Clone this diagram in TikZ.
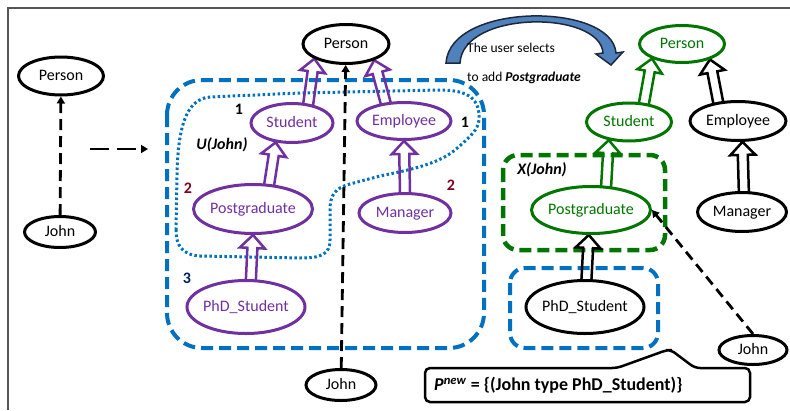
\documentclass[tikz,border=0pt]{standalone}
\usepackage{fontspec}
\setmainfont{Carlito}
\usetikzlibrary{shapes.geometric,calc,arrows.meta}
\pgfdeclarelayer{bg}
\pgfdeclarelayer{mid}
\pgfsetlayers{bg,mid,main}
\newcommand\zwbox[1]{\makebox[0pt]{#1}}
\definecolor{ppl}{RGB}{112,48,160}
\definecolor{blu}{RGB}{0,112,192}
\definecolor{grn}{RGB}{0,118,0}
\definecolor{dred}{RGB}{128,0,32}
\definecolor{navy}{RGB}{0,32,96}
\definecolor{arrb}{RGB}{79,129,189}
\definecolor{arrd}{RGB}{30,40,60}
\definecolor{frm}{RGB}{85,85,85}
\newcommand\harrow[3]{%
  \path (#2) coordinate (hA) (#3) coordinate (hB);
  \path ($(hA)!-6pt!(hB)$) coordinate (hS) ($(hB)!13pt!(hA)$) coordinate (hC);
  \draw[hollow,#1] ($(hS)!5pt!90:(hB)$) -- ($(hC)!5pt!90:(hB)$) -- ($(hC)!12.5pt!90:(hB)$) -- (hB)
     -- ($(hC)!12.5pt!-90:(hB)$) -- ($(hC)!5pt!-90:(hB)$) -- ($(hS)!5pt!-90:(hB)$);
}
\begin{document}
\begin{tikzpicture}[x=1pt,y=-1pt,
  ell/.style={ellipse, draw, line width=3pt, fill=white, inner sep=0pt,
     text height=11pt, text depth=3pt, font=\fontsize{16}{19}\selectfont},
  pell/.style={ell, draw=ppl, text=ppl},
  gell/.style={ell, draw=grn, text=grn},
  hollow/.style={line width=2.5pt, line join=miter},
  dasharr/.style={line width=2.8pt, dash pattern=on 11pt off 6pt, -{Triangle[length=7pt,width=8pt]}},
  lbl/.style={font=\fontsize{16}{19}\selectfont\bfseries, inner sep=0pt},
  grp/.style={line width=4pt, dash pattern=on 12pt off 6pt},
]
\useasboundingbox (0,0) rectangle (790,410);
\draw[line width=2pt, draw=frm] (7.5,410) -- (7.5,7.5) -- (790,7.5);

% left part
\node[ell, minimum width=85pt, minimum height=38pt] (lp) at (61,76) {\zwbox{Person}};
\node[ell, minimum width=71pt, minimum height=31pt] (lj) at (60,232) {\zwbox{John}};
\draw[dasharr] (lj) -- (lp);
\coordinate (h1) at (90,149);
\coordinate (h2) at (148,149);
\draw[dasharr, dash pattern=on 19pt off 8pt] (h1) -- (h2);

% middle part
\node[ell, minimum width=86pt, minimum height=39pt] (mp) at (346,44) {\zwbox{Person}};
\node[pell, minimum width=82pt, minimum height=39pt] (ms) at (292,123) {\zwbox{Student}};
\node[pell, minimum width=94pt, minimum height=37pt] (me) at (404,121) {\zwbox{Employee}};
\node[pell, minimum width=119pt, minimum height=49pt] (mg) at (253,209) {\zwbox{Postgraduate}};
\node[pell, minimum width=92pt, minimum height=39pt] (mm) at (405,213) {\zwbox{Manager}};
\node[pell, minimum width=118pt, minimum height=53pt] (mh) at (246,307) {\zwbox{PhD\_Student}};
\node[ell, minimum width=70pt, minimum height=31pt] (mj) at (341,385) {\zwbox{John}};

% right part
\node[gell, minimum width=85pt, minimum height=37pt] (rp) at (682,44) {\zwbox{Person}};
\node[gell, minimum width=85pt, minimum height=38pt] (rs) at (629,122) {\zwbox{Student}};
\node[ell, minimum width=96pt, minimum height=39pt] (re) at (738,121) {\zwbox{Employee}};
\node[gell, minimum width=119pt, minimum height=47pt] (rg) at (591,210) {\zwbox{Postgraduate}};
\node[ell, minimum width=89pt, minimum height=39pt] (rm) at (742,212) {\zwbox{Manager}};
\node[ell, minimum width=118pt, minimum height=53pt] (rh) at (585,307) {\zwbox{PhD\_Student}};
\node[ell, minimum width=68pt, minimum height=29pt] (rj) at (753,350) {\zwbox{John}};

\begin{pgfonlayer}{bg}
\draw[grp, draw=blu, rounded corners=35pt] (167,80) rectangle (484,348);
\draw[blu, line width=3pt, dash pattern=on 2.5pt off 2.5pt]
  (176,230) -- (177,175) .. controls (178,130) and (185,99) .. (210,97) -- (300,93) -- (440,90)
  .. controls (470,90) and (480,100) .. (479,120) .. controls (478,130) and (470,137) .. (455,150)
  .. controls (440,162) and (420,168) .. (380,176) -- (350,184)
  .. controls (335,188) and (330,195) .. (330,210) -- (330,240)
  .. controls (330,255) and (320,258) .. (300,258) -- (200,256)
  .. controls (182,255) and (176,245) .. cycle;
\draw[grp, draw=grn, line width=4.5pt, rounded corners=15pt] (503,155) rectangle (665,250);
\draw[grp, draw=blu, rounded corners=15pt] (510,268) rectangle (658,348);
\end{pgfonlayer}

\begin{pgfonlayer}{mid}
\harrow{ppl}{ms.50}{mp.205}
\harrow{ppl}{me.135}{mp.330}
\harrow{ppl}{mg.57}{ms.230}
\harrow{ppl}{mm.north}{me.south}
\harrow{ppl}{mh.80}{mg.south}
\harrow{grn}{rs.52}{rp.206}
\harrow{black}{re.136}{rp.331}
\harrow{grn}{rg.58}{rs.222}
\harrow{black}{rm.85}{re.282}
\harrow{black}{rh.87}{rg.265}
\end{pgfonlayer}

\draw[dasharr] (mj) -- (mp);

\node[lbl] (n1a) at (239,109) {1};
\node[lbl] (n1b) at (465,122) {1};
\node[lbl, font=\fontsize{16}{19}\selectfont\bfseries\itshape] (uj) at (222,145) {U(John)};
\node[lbl, text=dred] (n2a) at (188,188) {2};
\node[lbl, text=dred] (n2b) at (451,185) {2};
\node[lbl, text=navy] (n3) at (187,278) {3};

% curved arrow
\draw[fill=arrb, draw=arrd, line width=1.5pt, line join=miter]
  (446,63) .. controls (450,2) and (612,2) .. (616,53) -- (623,52) -- (611,65) -- (596,54)
  -- (603,53) .. controls (600,10) and (463,10) .. (460,63) -- cycle;
\node[anchor=west, inner sep=0pt, font=\fontsize{13.5}{16}\selectfont] (t1) at (467,48) {The user selects};
\node[anchor=west, inner sep=0pt, font=\fontsize{13.5}{16}\selectfont] (t2) at (467,78) {to add \textbf{\textit{Postgraduate}}};

\node[lbl, font=\fontsize{16}{19}\selectfont\bfseries\itshape] (xj) at (542,170) {X(John)};
\draw[dasharr, dash pattern=on 10pt off 6pt] (rj.north) -- (rg.east);

% callout
\draw[line width=2.5pt, fill=white, rounded corners=5pt]
  (425,402) -- (425,368) -- (617,368) -- (667,350) -- (671,350) -- (695,368) -- (750,368) -- (750,402) -- cycle;
\node[anchor=west, inner sep=0pt, font=\fontsize{18}{21}\selectfont\bfseries] (pn) at (434,385)
  {\textit{P}\textsuperscript{\textit{new}} = \{(John type PhD\_Student)\}};
\end{tikzpicture}
\end{document}
